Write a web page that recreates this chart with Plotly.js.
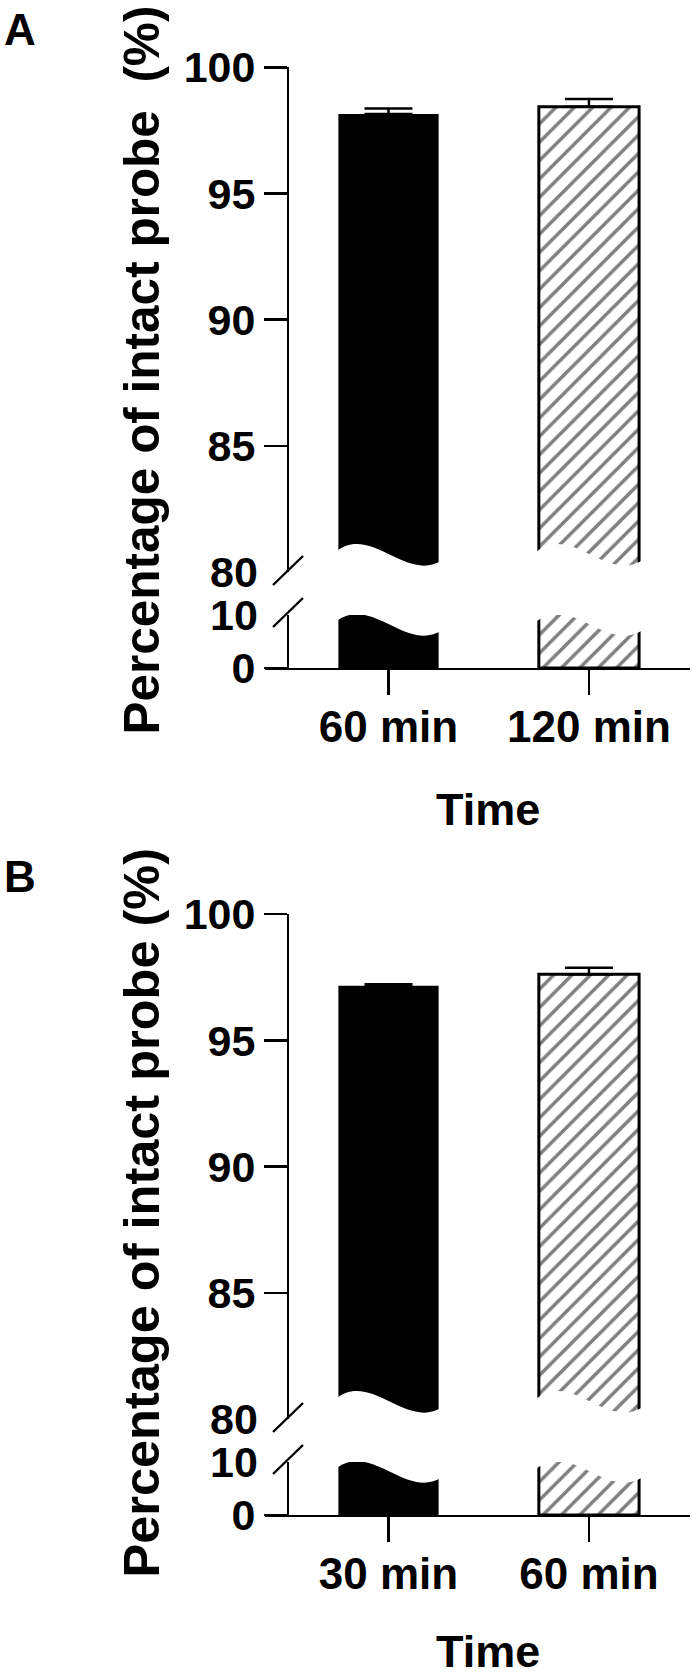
<!DOCTYPE html>
<html><head><meta charset="utf-8">
<script src="https://cdn.plot.ly/plotly-3.0.1.min.js"></script>
<style>html,body{margin:0;padding:0;background:#fff;} #chart{width:692px;height:1678px;}</style>
</head><body><div id="chart"></div>
<script>
// ---------------- data ----------------
const panelLabels = ["A", "B"];
const categoriesA = ["60 min", "120 min"];
const valuesA = [98.15, 98.44];
const errorsA = [0.22, 0.30];
const categoriesB = ["30 min", "60 min"];
const valuesB = [97.17, 97.62];
const errorsB = [0.06, 0.26];
const upperTicks = [80, 85, 90, 95, 100];
const lowerTicks = [0, 10];
const xTitle = "Time";
const yTitleA = "Percentage of intact probe  (%)";
const yTitleB = "Percentage of intact probe (%)";

// ---------------- layout geometry (pixels) ----------------
const W = 692, H = 1678;
const FONT = "Liberation Sans, Arial, sans-serif";
const BLACK = "#000000";
const LW = 2.4;
const G = {plotLeft: 265, plotRight: 690, yAxisX: 288, upTop: 67.3, upBottom: 572, lowTop: 615, lowBottom: 668};
const panelShift = [0, 847];
const fx = p => p / W;
const fy = p => (H - p) / H;
const xRange = [-0.616, 1.504];
const barWidth = 0.5;

const panels = [
  {label: panelLabels[0], cats: categoriesA, vals: valuesA, errs: errorsA, title: yTitleA, titleY: 370, titleSize: 49.5, timeY: 809},
  {label: panelLabels[1], cats: categoriesB, vals: valuesB, errs: errorsB, title: yTitleB, titleY: 366, titleSize: 50.5, timeY: 804}
];

const upRange = [upperTicks[0], upperTicks[upperTicks.length - 1]];
const lowRange = [lowerTicks[0], lowerTicks[lowerTicks.length - 1]];

// bar styles by position: first = solid black, second = hatched
const barStyles = [
  {color: "#000000", line: {color: BLACK, width: 0}},
  {color: "#ffffff", line: {color: BLACK, width: 3},
   pattern: {shape: "/", fgcolor: BLACK, bgcolor: "#ffffff", size: 13, solidity: 0.27, fillmode: "overlay"}}
];

const data = [];
const layout = {
  width: W, height: H,
  margin: {l: 0, r: 0, t: 0, b: 0},
  paper_bgcolor: "#ffffff", plot_bgcolor: "rgba(0,0,0,0)",
  showlegend: false, barmode: "overlay",
  font: {family: FONT, color: BLACK, weight: "bold"},
  shapes: [], annotations: []
};

panels.forEach((p, k) => {
  const dy = panelShift[k];
  const xName = k === 0 ? "x" : "x2";
  const xKey = k === 0 ? "xaxis" : "xaxis2";
  const yUpName = k === 0 ? "y" : "y3";
  const yUpKey = k === 0 ? "yaxis" : "yaxis3";
  const yLowName = k === 0 ? "y2" : "y4";
  const yLowKey = k === 0 ? "yaxis2" : "yaxis4";
  const xIdx = p.cats.map((c, i) => i);

  xIdx.forEach(i => {
    const st = barStyles[i % barStyles.length];
    // upper part of broken bar
    data.push({
      type: "bar", x: [i], y: [p.vals[i]], width: barWidth, xaxis: xName, yaxis: yUpName,
      marker: JSON.parse(JSON.stringify(st)), hoverinfo: "skip",
      error_y: {type: "data", symmetric: false, array: [p.errs[i]], arrayminus: [0],
                color: BLACK, thickness: 2.5, width: 24}
    });
    // lower part of broken bar
    data.push({
      type: "bar", x: [i], y: [p.vals[i]], width: barWidth, xaxis: xName, yaxis: yLowName,
      marker: JSON.parse(JSON.stringify(st)), hoverinfo: "skip"
    });
  });

  const tickFont = {family: FONT, size: 43, color: BLACK, weight: "bold"};
  layout[xKey] = {
    domain: [fx(G.plotLeft), fx(G.plotRight)], range: xRange, anchor: yLowName,
    tickmode: "array", tickvals: xIdx, ticktext: p.cats,
    ticks: "outside", ticklen: 25, tickwidth: LW, tickcolor: BLACK,
    showline: true, linewidth: LW, linecolor: BLACK, showgrid: false, zeroline: false,
    tickfont: {family: FONT, size: 44, color: BLACK, weight: "bold"}, ticklabelstandoff: -6, fixedrange: true
  };
  const yCommon = {
    anchor: "free", position: fx(G.yAxisX),
    ticks: "outside", ticklen: 23, tickwidth: LW, tickcolor: BLACK,
    showline: true, linewidth: LW, linecolor: BLACK, showgrid: false, zeroline: false,
    tickfont: tickFont, fixedrange: true
  };
  layout[yUpKey] = Object.assign({}, yCommon, {
    domain: [fy(G.upBottom + dy), fy(G.upTop + dy)], range: upRange,
    tickmode: "array", tickvals: upperTicks.slice(1), ticktext: upperTicks.slice(1).map(String)
  });
  layout[yLowKey] = Object.assign({}, yCommon, {
    domain: [fy(G.lowBottom + dy), fy(G.lowTop + dy)], range: lowRange,
    tickmode: "array", tickvals: lowerTicks.slice(0, -1), ticktext: lowerTicks.slice(0, -1).map(String)
  });

  // labels at the break ends of the axis (no tick mark there)
  layout.annotations.push({
    xref: "paper", yref: yUpName, x: fx(G.yAxisX - 23 - 5), y: upperTicks[0], xanchor: "right", yanchor: "middle",
    text: String(upperTicks[0]), showarrow: false, font: tickFont
  });
  layout.annotations.push({
    xref: "paper", yref: yLowName, x: fx(G.yAxisX - 23 - 5), y: lowerTicks[lowerTicks.length - 1], xanchor: "right", yanchor: "middle",
    text: String(lowerTicks[lowerTicks.length - 1]), showarrow: false, font: tickFont
  });

  // wavy cuts of the bars across the break (white masks computed from bar positions)
  const upPx = (G.upBottom - G.upTop) / (upRange[1] - upRange[0]);
  const lowPx = (G.lowBottom - G.lowTop) / (lowRange[1] - lowRange[0]);
  const waveUp = [19, 50, -12, 12];
  const waveLow = waveUp.map(v => v - 27);
  const pad = 0.02;
  xIdx.forEach(i => {
    const xl = i - barWidth / 2 - pad, xr = i + barWidth / 2 + pad;
    const w = xr - xl;
    const c1 = xl + 0.33 * w, c2 = xl + 0.66 * w;
    const u = waveUp.map(v => upRange[0] + v / upPx);
    const yb = upRange[0] - 2;
    layout.shapes.push({
      type: "path", xref: xName, yref: yUpName, layer: "above", fillcolor: "#ffffff", line: {width: 0},
      path: `M ${xl},${yb} L ${xl},${u[0]} C ${c1},${u[1]} ${c2},${u[2]} ${xr},${u[3]} L ${xr},${yb} Z`
    });
    const l = waveLow.map(v => lowRange[1] + v / lowPx);
    const yt = lowRange[1] + 5;
    layout.shapes.push({
      type: "path", xref: xName, yref: yLowName, layer: "above", fillcolor: "#ffffff", line: {width: 0},
      path: `M ${xl},${yt} L ${xl},${l[0]} C ${c1},${l[1]} ${c2},${l[2]} ${xr},${l[3]} L ${xr},${yt} Z`
    });
  });

  // axis break slashes
  [570.5, 612.5].forEach(cy => {
    layout.shapes.push({
      type: "line", xref: "paper", yref: "paper", layer: "above",
      x0: fx(G.yAxisX - 15), y0: fy(cy + dy + 14.5), x1: fx(G.yAxisX + 15), y1: fy(cy + dy - 14.5),
      line: {color: BLACK, width: LW}
    });
  });

  // panel letter
  layout.annotations.push({
    xref: "paper", yref: "paper", x: fx(2), y: fy(29 + dy), xanchor: "left", yanchor: "middle",
    text: p.label, showarrow: false, font: {family: FONT, size: 44, color: BLACK, weight: "bold"}
  });
  // y title
  layout.annotations.push({
    xref: "paper", yref: "paper", x: fx(140.5), y: fy(p.titleY + dy), xanchor: "center", yanchor: "middle",
    textangle: -90, text: p.title, showarrow: false, font: {family: FONT, size: p.titleSize, color: BLACK, weight: "bold"}
  });
  // x title
  layout.annotations.push({
    xref: "paper", yref: "paper", x: fx(487.5), y: fy(p.timeY + dy), xanchor: "center", yanchor: "middle",
    text: xTitle, showarrow: false, font: {family: FONT, size: 45, color: BLACK, weight: "bold"}
  });
});

Plotly.newPlot("chart", data, layout, {staticPlot: true, displayModeBar: false});
</script>
</body></html>
